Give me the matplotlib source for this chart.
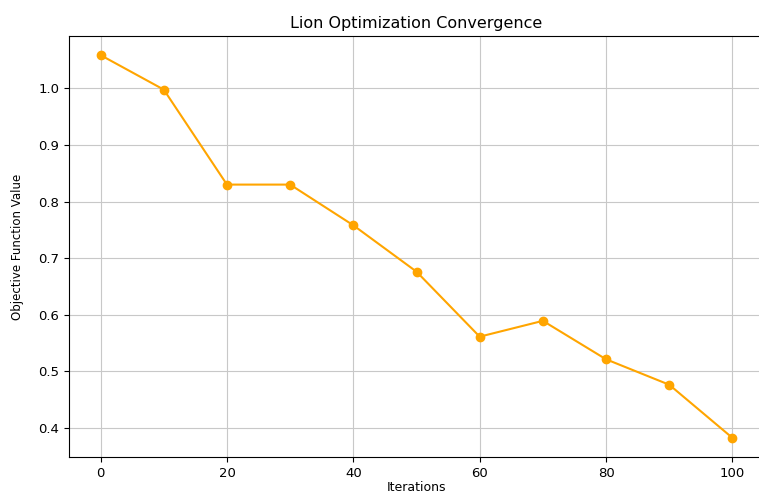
import numpy as np
import matplotlib
matplotlib.use('Agg')
import matplotlib.pyplot as plt

# iteration numbers and objective values
iterations = [0, 10, 20, 30, 40, 50, 60, 70, 80, 90, 100]
objective = [1.059, 0.998, 0.830, 0.830, 0.758, 0.676, 0.561, 0.589, 0.521, 0.476, 0.382]

fig = plt.figure(figsize=(7.59, 4.93), dpi=100)
# axes run a bit past the right edge, like the cropped screenshot
ax = fig.add_axes([0.0909, 0.073, 0.9157, 0.854])

ax.plot(iterations, objective, color='orange', marker='o', markersize=6, linewidth=1.5)

ax.set_title('Lion Optimization Convergence', fontsize=11.5)
ax.set_xlabel('Iterations', fontsize=9, labelpad=1)
ax.set_ylabel('Objective Function Value', fontsize=8.5, labelpad=10)
ax.tick_params(labelsize=9.5)
ax.set_xticks([0, 20, 40, 60, 80, 100])
ax.grid(True, color='#c8c8c8')
ax.spines['right'].set_visible(False)

fig.savefig('out.png', dpi=100)
